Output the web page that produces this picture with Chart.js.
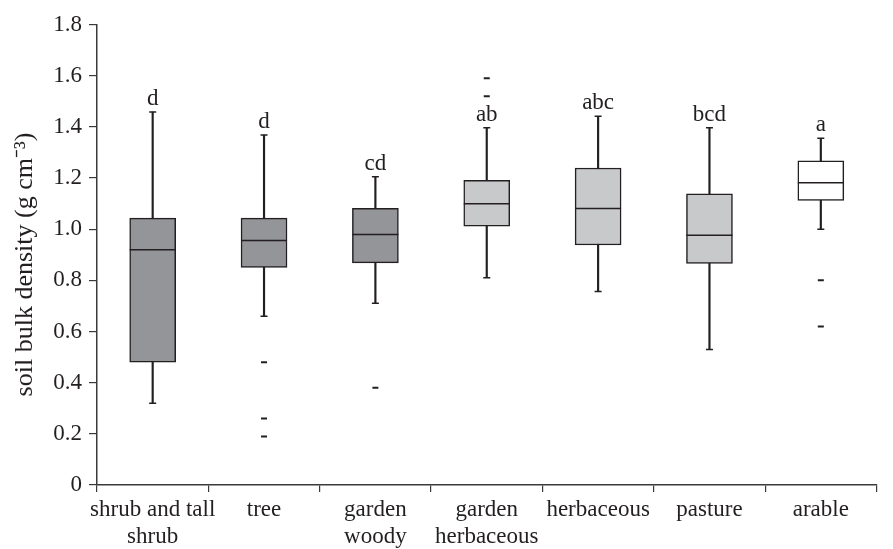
<!DOCTYPE html>
<html><head><meta charset="utf-8">
<script src="https://cdn.jsdelivr.net/npm/chart.js@4.4.1/dist/chart.umd.min.js"></script>
<style>html,body{margin:0;padding:0;overflow:hidden;background:#fff}#wrap{width:901px;height:549px;position:relative}</style>
</head><body><div id="wrap"><canvas id="c"></canvas></div>
<script>
const categories = ["shrub and tall shrub","tree","garden woody","garden herbaceous","herbaceous","pasture","arable"];
const tickLines = [["shrub and tall","shrub"],["tree"],["garden","woody"],["garden","herbaceous"],["herbaceous"],["pasture"],["arable"]];
const whiskerLow  = [0.32, 0.66, 0.71, 0.81, 0.756, 0.53, 1.00];
const q1          = [0.48, 0.85, 0.868, 1.012, 0.938, 0.866, 1.112];
const median      = [0.92, 0.956, 0.979, 1.099, 1.081, 0.976, 1.181];
const q3          = [1.043, 1.043, 1.081, 1.191, 1.239, 1.138, 1.267];
const whiskerHigh = [1.458, 1.368, 1.205, 1.396, 1.441, 1.396, 1.355];
const outliers    = [[], [0.48, 0.26, 0.19], [0.38], [1.59, 1.52], [], [], [0.80, 0.62]];
const letters     = ["d","d","cd","ab","abc","bcd","a"];
const boxFill     = ["#939598","#939598","#939598","#c8c9cb","#c8c9cb","#c8c9cb","#ffffff"];
const yTicks      = [0,0.2,0.4,0.6,0.8,1.0,1.2,1.4,1.6,1.8];

const ink = '#231f20';
const serif = "'Liberation Serif','Times New Roman',serif";

const outlierPts = [];
outliers.forEach((arr,i)=>arr.forEach(v=>outlierPts.push({x:categories[i], y:v})));
const capPts = [];
categories.forEach((c,i)=>{capPts.push({x:c,y:whiskerLow[i]});capPts.push({x:c,y:whiskerHigh[i]});});

const lettersPlugin = {
  id:'letters',
  afterDatasetsDraw(chart){
    const {ctx, scales:{x,y}} = chart;
    ctx.save();
    ctx.font = "23px " + serif;
    ctx.fillStyle = ink;
    ctx.textAlign = 'center';
    ctx.textBaseline = 'alphabetic';
    letters.forEach((t,i)=>{
      ctx.fillText(t, x.getPixelForValue(i), y.getPixelForValue(whiskerHigh[i]) - 7);
    });
    ctx.restore();
  }
};

new Chart(document.getElementById('c'), {
  type:'bar',
  data:{
    labels:categories,
    datasets:[
      {type:'bar', label:'whisker', data:whiskerLow.map((v,i)=>[v,whiskerHigh[i]]),
       backgroundColor:ink, borderWidth:0, barThickness:1.5, grouped:false, order:3},
      {type:'bar', label:'box', data:q1.map((v,i)=>[v,q3[i]]),
       backgroundColor:boxFill, borderColor:ink, borderWidth:1.5, borderSkipped:false,
       barThickness:46, grouped:false, order:2},
      {type:'line', label:'median', data:median.map((v,i)=>({x:categories[i],y:v})),
       showLine:false, pointStyle:'line', pointRadius:23, pointBorderWidth:1.5,
       borderColor:ink, backgroundColor:ink, order:1},
      {type:'line', label:'caps', data:capPts,
       showLine:false, pointStyle:'line', pointRadius:3.5, pointBorderWidth:1.5,
       borderColor:ink, backgroundColor:ink, order:1},
      {type:'line', label:'outliers', data:outlierPts,
       showLine:false, pointStyle:'line', pointRadius:3, pointBorderWidth:2,
       borderColor:ink, backgroundColor:ink, order:1}
    ]
  },
  options:{
    responsive:true, maintainAspectRatio:false, animation:false, devicePixelRatio:1,
    events:[],
    layout:{padding:{top:20,right:0,bottom:0,left:0}},
    plugins:{legend:{display:false}, tooltip:{enabled:false}},
    scales:{
      x:{
        type:'category',
        grid:{offset:true, drawOnChartArea:false, drawTicks:true, tickLength:7, color:'#3a3a3a', lineWidth:1.2},
        border:{display:true, color:'#3a3a3a', width:1.5},
        ticks:{color:ink, font:{family:serif, size:23, lineHeight:1.2}, padding:4, maxRotation:0, autoSkip:false,
               callback:(v,i)=>tickLines[i]},
        afterFit:(s)=>{s.height = 64;}
      },
      y:{
        min:0, max:1.8,
        afterBuildTicks:(s)=>{s.ticks = yTicks.map(v=>({value:v}));},
        grid:{drawOnChartArea:false, drawTicks:true, tickLength:8, color:'#3a3a3a', lineWidth:1.2},
        border:{display:true, color:'#3a3a3a', width:1.5},
        ticks:{color:ink, font:{family:serif, size:23}, padding:7,
               callback:(v)=> v===0 ? '0' : v.toFixed(1)},
        title:{display:true, text:'soil bulk density (g cm\u207B\u00B3)   ', color:ink,
               font:{family:serif, size:26}, padding:{top:10,bottom:0}},
        afterFit:(s)=>{s.width = 97;}
      }
    }
  },
  plugins:[lettersPlugin]
});
</script>
</body></html>
